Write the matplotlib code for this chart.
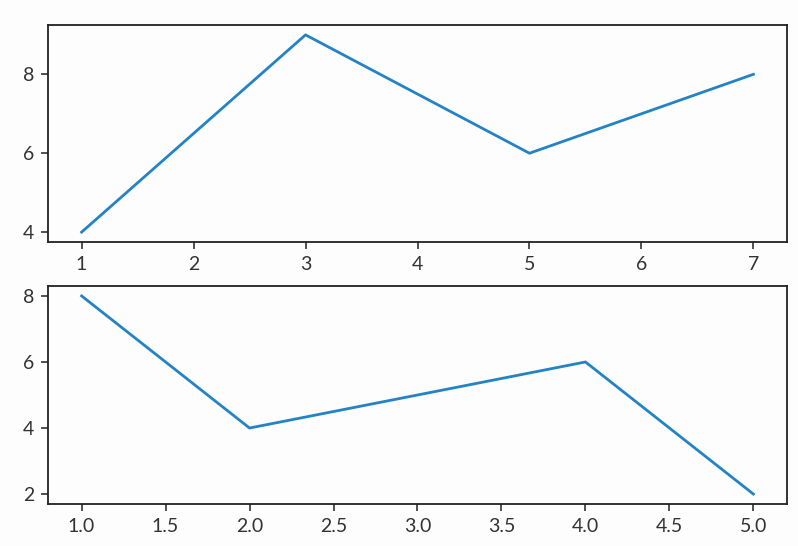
import matplotlib.pyplot as plt
from matplotlib import rcParams

rcParams['font.family'] = ['Lato', 'DejaVu Sans']
rcParams['font.size'] = 14
rcParams['xtick.color'] = '#333333'
rcParams['ytick.color'] = '#333333'
rcParams['xtick.labelcolor'] = '#333333'
rcParams['ytick.labelcolor'] = '#333333'
rcParams['axes.edgecolor'] = '#222222'
rcParams['axes.linewidth'] = 1.3

x_top = [1, 3, 5, 7]
y_top = [4, 9, 6, 8]
x_bottom = [1, 2, 4, 5]
y_bottom = [8, 4, 6, 2]

fig = plt.figure(figsize=(7.98, 5.46), dpi=100)
fig.patch.set_facecolor('#fdfdfd')

W, H = 798.0, 546.0
ax1 = fig.add_axes([48 / W, 1 - 242 / H, (787 - 48) / W, (242 - 25) / H])
ax2 = fig.add_axes([48 / W, 1 - 504 / H, (787 - 48) / W, (504 - 286) / H])

for ax, x, y in [(ax1, x_top, y_top), (ax2, x_bottom, y_bottom)]:
    ax.set_facecolor('#fdfdfd')
    ax.plot(x, y, color='#2483c5', linewidth=2)
    ax.tick_params(length=5, width=1.2, labelsize=14, pad=5)

ax1.set_yticks([4, 6, 8])
ax2.set_yticks([2, 4, 6, 8])

fig.savefig('out.png', dpi=100, facecolor=fig.get_facecolor())
